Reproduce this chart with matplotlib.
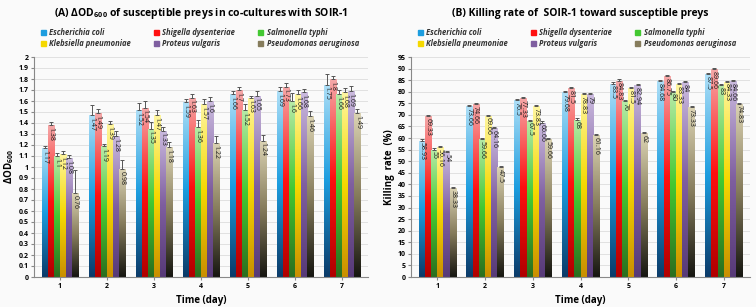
import numpy as np
import matplotlib
matplotlib.use("Agg")
import matplotlib.pyplot as plt
from matplotlib.colors import LinearSegmentedColormap
from matplotlib.patches import Patch

plt.rcParams['font.family'] = ['Open Sans', 'DejaVu Sans']
plt.rcParams['mathtext.fontset'] = 'custom'
plt.rcParams['mathtext.rm'] = 'Open Sans:bold'
plt.rcParams['mathtext.bf'] = 'Open Sans:bold'
plt.rcParams['mathtext.default'] = 'bf'

days = ["1", "2", "3", "4", "5", "6", "7"]
species = ["Escherichia coli", "Shigella dysenteriae", "Salmonella typhi",
           "Klebsiella pneumoniae", "Proteus vulgaris", "Pseudomonas aeruginosa"]

# (A) delta OD600
od_ecoli = [1.17, 1.47, 1.52, 1.59, 1.66, 1.69, 1.75]
od_shig = [1.38, 1.49, 1.54, 1.63, 1.70, 1.73, 1.80]
od_salm = [1.10, 1.19, 1.35, 1.36, 1.52, 1.60, 1.66]
od_kleb = [1.12, 1.39, 1.47, 1.57, 1.63, 1.66, 1.68]
od_prot = [1.08, 1.28, 1.33, 1.60, 1.65, 1.68, 1.69]
od_pseu = [0.76, 0.98, 1.18, 1.22, 1.24, 1.46, 1.49]
od_err_ecoli = [0.02, 0.09, 0.06, 0.03, 0.03, 0.04, 0.10]
od_err_shig = [0.03, 0.04, 0.06, 0.03, 0.03, 0.03, 0.03]
od_err_salm = [0.03, 0.02, 0.06, 0.07, 0.05, 0.07, 0.04]
od_err_kleb = [0.03, 0.03, 0.05, 0.05, 0.02, 0.04, 0.04]
od_err_prot = [0.03, 0.05, 0.03, 0.04, 0.04, 0.03, 0.05]
od_err_pseu = [0.21, 0.08, 0.05, 0.06, 0.05, 0.05, 0.04]

# (B) killing rate (%)
kr_ecoli = [58.93, 73.66, 76.5, 79.68, 83.5, 84.68, 87.5]
kr_shig = [69.33, 74.66, 77.33, 81.5, 84.83, 86.75, 89.66]
kr_salm = [55, 59.66, 67.5, 68, 76, 80, 83]
kr_kleb = [56.16, 69.66, 73.83, 78.83, 81.5, 83.33, 84.33]
kr_prot = [54, 64.16, 66.66, 79, 82.94, 84, 84.66]
kr_pseu = [38.33, 47.5, 59.66, 61.16, 62, 73.33, 74.83]
kr_err = [0.5] * 7

od_labels = [["1.17", "1.47", "1.52", "1.59", "1.66", "1.69", "1.75"],
             ["1.38", "1.49", "1.54", "1.63", "1.7", "1.73", "1.8"],
             ["1.1", "1.19", "1.35", "1.36", "1.52", "1.6", "1.66"],
             ["1.12", "1.39", "1.47", "1.57", "1.63", "1.66", "1.68"],
             ["1.08", "1.28", "1.33", "1.6", "1.65", "1.68", "1.69"],
             ["0.76", "0.98", "1.18", "1.22", "1.24", "1.46", "1.49"]]

# gradient stops (bottom, middle, top) per species
grads = [("#0b3a68", "#1c9ddf", "#aedff7"),
         ("#b00000", "#ff1010", "#f5a9a9"),
         ("#2b6e1f", "#43c832", "#b8eba8"),
         ("#c98f00", "#f5d800", "#fff6a0"),
         ("#573a78", "#7f5fa0", "#cbbbdf"),
         ("#151510", "#867c5c", "#dcd4b4")]
legend_cols = ["#1c9ddf", "#ff1010", "#43c832", "#f5d800", "#7f5fa0", "#867c5c"]


def grad_bars(ax, vals_list, errs_list, labels_list, ymax):
    x = np.arange(len(days))
    w = 0.13
    img = np.linspace(0, 1, 256).reshape(-1, 1)
    for i, (vals, errs, labs) in enumerate(zip(vals_list, errs_list, labels_list)):
        pos = x + (i - 2.5) * w
        bars = ax.bar(pos, vals, w, color="none", edgecolor="none", zorder=2)
        cmap = LinearSegmentedColormap.from_list("g%d" % i, grads[i])
        for b in bars:
            x0 = b.get_x()
            im = ax.imshow(img, cmap=cmap, origin="lower", aspect="auto",
                           extent=[x0, x0 + b.get_width(), 0, b.get_height()], zorder=2)
            im.set_clip_path(b)
        ax.errorbar(pos, vals, yerr=[np.zeros(len(vals)), errs], fmt="none",
                    ecolor="#555555", elinewidth=0.7, capsize=1.2, capthick=0.7, zorder=3)
        for p, v, s in zip(pos, vals, labs):
            ax.text(p, v - ymax * 0.008, s, rotation=-90, ha="center", va="top",
                    fontsize=5, color="#1a1a1a", zorder=4)
    ax.set_xlim(-0.55, len(days) - 0.45)
    ax.set_xticks(x)
    ax.set_xticklabels(days)


fig = plt.figure(figsize=(7.56, 3.07), dpi=100)
fig.patch.set_facecolor("#fafafa")

axA = fig.add_axes([34 / 756, 30 / 307, 334 / 756, 220 / 307])
axB = fig.add_axes([411 / 756, 30 / 307, 339 / 756, 220 / 307])

grad_bars(axA, [od_ecoli, od_shig, od_salm, od_kleb, od_prot, od_pseu],
          [od_err_ecoli, od_err_shig, od_err_salm, od_err_kleb, od_err_prot, od_err_pseu],
          od_labels, 2.0)
kr_vals = [kr_ecoli, kr_shig, kr_salm, kr_kleb, kr_prot, kr_pseu]
kr_labels = [["%g" % v for v in s] for s in kr_vals]
grad_bars(axB, kr_vals, [kr_err] * 6, kr_labels, 95)

axA.set_ylim(0, 2)
axA.set_yticks(np.arange(0, 2.01, 0.1))
axA.set_yticklabels(["%g" % round(v, 1) for v in np.arange(0, 2.01, 0.1)])
axB.set_ylim(0, 95)
axB.set_yticks(np.arange(0, 96, 5))

for ax in (axA, axB):
    ax.set_facecolor("#fafafa")
    ax.grid(axis="y", color="#dddddd", linewidth=0.6, zorder=0)
    ax.set_axisbelow(True)
    for s in ("top", "right"):
        ax.spines[s].set_visible(False)
    ax.spines["left"].set_color("#888888")
    ax.spines["bottom"].set_color("#888888")
    ax.tick_params(axis="both", labelsize=5, length=2, color="#888888", pad=2)
    for t in ax.get_xticklabels() + ax.get_yticklabels():
        t.set_fontweight("bold")
    ax.set_xlabel("Time (day)", fontsize=7, fontweight="bold", labelpad=4)

axA.set_ylabel(r"$\Delta$OD$_{600}$", fontsize=7, fontweight="bold", labelpad=2)
axB.set_ylabel("Killing  rate  (%)", fontsize=7, fontweight="bold", labelpad=2)

axA.set_title(r"(A) $\Delta$OD$_{600}$ of susceptible preys in co-cultures with SOIR-1",
              fontsize=7.5, fontweight="bold", y=1.15)
axB.set_title("(B) Killing rate of  SOIR-1 toward susceptible preys",
              fontsize=7.5, fontweight="bold", y=1.15)

order = [0, 3, 1, 4, 2, 5]
handles = [Patch(color=legend_cols[i]) for i in order]
names = [species[i] for i in order]
for ax in (axA, axB):
    leg = ax.legend(handles, names, ncol=3, loc="lower left", bbox_to_anchor=(0.0, 1.01),
                    frameon=False, handlelength=0.7, handleheight=0.7,
                    handletextpad=0.4, columnspacing=3.0, labelspacing=0.25,
                    prop={"style": "italic", "weight": "bold", "size": 5.5})
    for t in leg.get_texts():
        t.set_color("#333333")

fig.savefig("out.png", dpi=100, facecolor=fig.get_facecolor())
